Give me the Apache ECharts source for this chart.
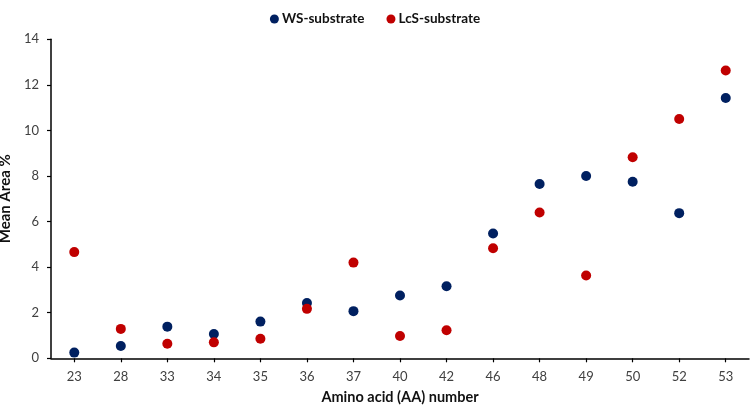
<!DOCTYPE html>
<html>
<head>
<meta charset="utf-8">
<script src="https://cdn.jsdelivr.net/npm/echarts@6/dist/echarts.min.js"></script>
<style>html,body{margin:0;padding:0;background:#fff}#c{width:750px;height:411px}</style>
</head>
<body>
<div id="c"></div>
<script>
const categories = ['23','28','33','34','35','36','37','40','42','46','48','49','50','52','53'];
const wsValues  = [0.25, 0.54, 1.39, 1.07, 1.61, 2.43, 2.07, 2.76, 3.16, 5.48, 7.65, 8.0, 7.75, 6.37, 11.42];
const lcsValues = [4.66, 1.29, 0.64, 0.70, 0.86, 2.17, 4.20, 0.98, 1.23, 4.83, 6.40, 3.63, 8.82, 10.50, 12.63];
const yTicks = [0, 2, 4, 6, 8, 10, 12, 14];

const FONT = 'Lato';
const chart = echarts.init(document.getElementById('c'));
chart.setOption({
  animation: false,
  textStyle: { fontFamily: FONT },
  legend: {
    top: 7, left: 'center',
    itemWidth: 9, itemHeight: 9, itemGap: 22,
    icon: 'circle',
    textStyle: { fontFamily: FONT, fontWeight: 'bold', fontSize: 13.5, color: '#111', padding: [0, 0, 0, -2] },
    data: ['WS-substrate', 'LcS-substrate']
  },
  grid: { left: 51, right: 1, top: 39.3, bottom: 52.7, containLabel: false, outerBoundsMode: 'none' },
  xAxis: {
    type: 'category',
    data: categories,
    boundaryGap: true,
    name: 'Amino acid (AA) number',
    nameLocation: 'middle',
    nameGap: 32,
    nameTextStyle: { fontFamily: FONT, fontWeight: 'bold', fontSize: 14.5, color: '#111' },
    axisLine: { lineStyle: { color: '#000', width: 1.5 } },
    axisTick: { show: true, alignWithLabel: true, length: 4, lineStyle: { color: '#000', width: 1.2 } },
    axisLabel: { fontFamily: FONT, fontSize: 13, color: '#404040', margin: 12 },
    splitLine: { show: false }
  },
  yAxis: {
    type: 'value',
    min: yTicks[0], max: yTicks[yTicks.length - 1], interval: 2,
    name: 'Mean Area %',
    nameLocation: 'middle',
    nameGap: 34,
    nameTextStyle: { fontFamily: FONT, fontWeight: 'bold', fontSize: 15, color: '#111' },
    axisLine: { show: true, lineStyle: { color: '#000', width: 1.5 } },
    axisTick: { show: true, length: 4, lineStyle: { color: '#000', width: 1.2 } },
    axisLabel: { fontFamily: FONT, fontSize: 13, color: '#404040', margin: 12 },
    splitLine: { show: false }
  },
  series: [
    { name: 'WS-substrate', type: 'scatter', data: wsValues, symbolSize: 10,
      itemStyle: { color: '#002060', opacity: 1 } },
    { name: 'LcS-substrate', type: 'scatter', data: lcsValues, symbolSize: 10,
      itemStyle: { color: '#C00000', opacity: 1 } }
  ]
});
</script>
</body>
</html>
